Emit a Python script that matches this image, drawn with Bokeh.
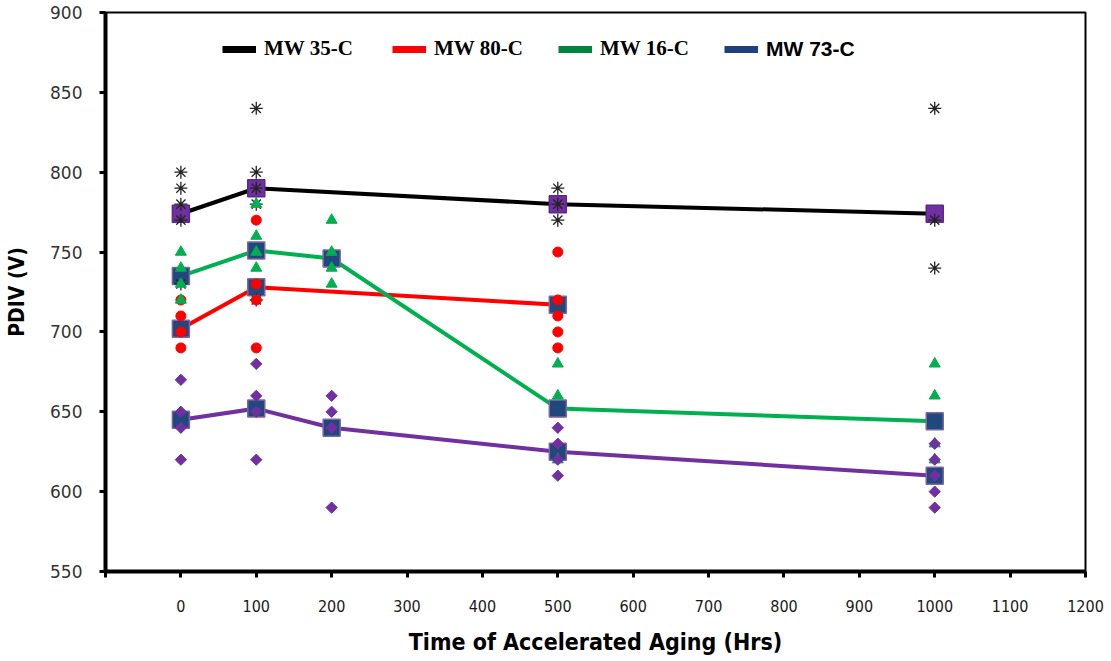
from bokeh.plotting import figure
from bokeh.models import FixedTicker, Legend, LegendItem, Range1d
from bokeh.embed import file_html
from bokeh.resources import INLINE

# ---------------- data ----------------
x_ticks = [-100, 0, 100, 200, 300, 400, 500, 600, 700, 800, 900, 1000, 1100, 1200]
y_ticks = [550, 600, 650, 700, 750, 800, 850, 900]

# MW 35-C : individual PDIV readings and their mean
mw35_hours = [0, 0, 0, 0, 0, 100, 100, 100, 100, 100, 500, 500, 500, 1000, 1000, 1000]
mw35_pdiv = [800, 790, 780, 770, 730, 840, 800, 790, 780, 720, 790, 780, 770, 840, 770, 740]
mw35_mean_hours = [0, 100, 500, 1000]
mw35_mean = [774, 790, 780, 774]

# MW 80-C
mw80_hours = [0, 0, 0, 0, 100, 100, 100, 100, 500, 500, 500, 500, 500]
mw80_pdiv = [720, 710, 700, 690, 770, 730, 720, 690, 750, 720, 710, 700, 690]
mw80_mean_hours = [0, 100, 500]
mw80_mean = [702, 728, 717]

# MW 16-C
mw16_hours = [0, 0, 0, 0, 100, 100, 100, 100, 200, 200, 200, 200,
              500, 500, 500, 1000, 1000, 1000, 1000]
mw16_pdiv = [750, 740, 730, 720, 780, 760, 750, 740, 770, 750, 740, 730,
             680, 660, 620, 680, 660, 630, 620]
mw16_mean_hours = [0, 100, 200, 500, 1000]
mw16_mean = [735, 751, 746, 652, 644]

# MW 73-C
mw73_hours = [0, 0, 0, 0, 100, 100, 100, 100, 200, 200, 200, 200,
              500, 500, 500, 500, 1000, 1000, 1000, 1000, 1000]
mw73_pdiv = [670, 650, 640, 620, 680, 660, 650, 620, 660, 650, 640, 590,
             640, 630, 620, 610, 630, 620, 610, 600, 590]
mw73_mean_hours = [0, 100, 200, 500, 1000]
mw73_mean = [645, 652, 640, 625, 610]

legend_labels = ["MW 35-C", "MW 80-C", "MW 16-C", "MW 73-C"]

# ---------------- styling ----------------
BLACK = "#000000"
RED = "#FF0000"
GREEN = "#00B050"
PURPLE = "#7030A0"
NAVY = "#1F497D"
LAVENDER = "#8064A2"

p = figure(width=1111, height=661, output_backend="svg", toolbar_location=None,
           x_range=Range1d(-100, 1200), y_range=Range1d(550, 900),
           min_border_left=105, min_border_right=26, min_border_top=12, min_border_bottom=90)
p.background_fill_color = "white"
p.border_fill_color = "white"
p.outline_line_color = BLACK
p.outline_line_width = 2
p.xgrid.visible = False
p.ygrid.visible = False

# axes
p.xaxis.ticker = FixedTicker(ticks=x_ticks)
p.xaxis.major_label_overrides = {-100: ""}
p.yaxis.ticker = FixedTicker(ticks=y_ticks)
for ax in (p.xaxis[0], p.yaxis[0]):
    ax.axis_line_color = BLACK
    ax.axis_line_width = 4
    ax.major_tick_line_color = BLACK
    ax.major_tick_line_width = 3
    ax.major_tick_in = 0
    ax.major_tick_out = 6
    ax.minor_tick_line_color = None

p.xaxis.major_label_text_font = "DejaVu Sans Condensed"
p.xaxis.major_label_text_font_size = "16px"
p.xaxis.major_label_text_color = "#1a1a1a"
p.xaxis.major_label_standoff = 22
p.xaxis.axis_label = "Time of Accelerated Aging (Hrs)"
p.xaxis.axis_label_text_font = "DejaVu Sans Condensed"
p.xaxis.axis_label_text_font_style = "bold"
p.xaxis.axis_label_text_font_size = "23px"
p.xaxis.axis_label_text_color = BLACK
p.xaxis.axis_label_standoff = 14

p.yaxis.major_label_text_font = "DejaVu Sans"
p.yaxis.major_label_text_font_size = "17px"
p.yaxis.major_label_text_color = "#333333"
p.yaxis.major_label_standoff = 17
p.yaxis.axis_label = "PDIV (V)"
p.yaxis.axis_label_text_font = "DejaVu Sans Condensed"
p.yaxis.axis_label_text_font_style = "bold"
p.yaxis.axis_label_text_font_size = "21px"
p.yaxis.axis_label_text_color = BLACK
p.yaxis.axis_label_standoff = 18

# mean trend lines
p.line(mw35_mean_hours, mw35_mean, line_color=BLACK, line_width=4)
p.line(mw80_mean_hours, mw80_mean, line_color=RED, line_width=4)
p.line(mw16_mean_hours, mw16_mean, line_color=GREEN, line_width=4)
p.line(mw73_mean_hours, mw73_mean, line_color=PURPLE, line_width=4)

# mean markers
p.scatter(mw35_mean_hours, mw35_mean, marker="square", size=17,
          fill_color=PURPLE, line_color="#5B2A86", line_width=1.5)
for hrs, vals in ((mw80_mean_hours, mw80_mean), (mw16_mean_hours, mw16_mean),
                  (mw73_mean_hours, mw73_mean)):
    p.scatter(hrs, vals, marker="square", size=17,
              fill_color=NAVY, line_color=LAVENDER, line_width=1.5)

# individual readings
p.scatter(mw35_hours, mw35_pdiv, marker="asterisk", size=13, line_color="#222222", line_width=1.3)
p.scatter(mw80_hours, mw80_pdiv, marker="circle", size=10, fill_color=RED, line_color=RED)
p.scatter(mw16_hours, mw16_pdiv, marker="triangle", size=11, fill_color=GREEN, line_color=GREEN)
p.scatter(mw73_hours, mw73_pdiv, marker="square", size=8, angle=45, angle_units="deg",
          fill_color=PURPLE, line_color=PURPLE)

# legend: one box per entry, with thick hidden swatch lines
swatch_colors = [BLACK, RED, "#00853F", "#1F3F7F"]
legend_fonts = ["Liberation Serif", "Liberation Serif", "Liberation Serif", "Liberation Sans"]
legend_x = [117, 287, 453, 619]
for lab, col, font, lx in zip(legend_labels, swatch_colors, legend_fonts, legend_x):
    r = p.line(mw35_mean_hours, mw35_mean, line_color=col, line_width=7, visible=False)
    leg = Legend(items=[LegendItem(label=lab, renderers=[r])], location=(lx, 510),
                 orientation="horizontal", border_line_color=None,
                 background_fill_alpha=0, padding=0, margin=0, spacing=0,
                 glyph_width=34, glyph_height=24, label_height=24, label_standoff=8,
                 label_text_font=font, label_text_font_style="bold",
                 label_text_font_size="21px", label_text_color=BLACK,
                 inactive_fill_alpha=0)
    p.add_layout(leg)

open("out.html", "w").write(file_html(p, INLINE))
